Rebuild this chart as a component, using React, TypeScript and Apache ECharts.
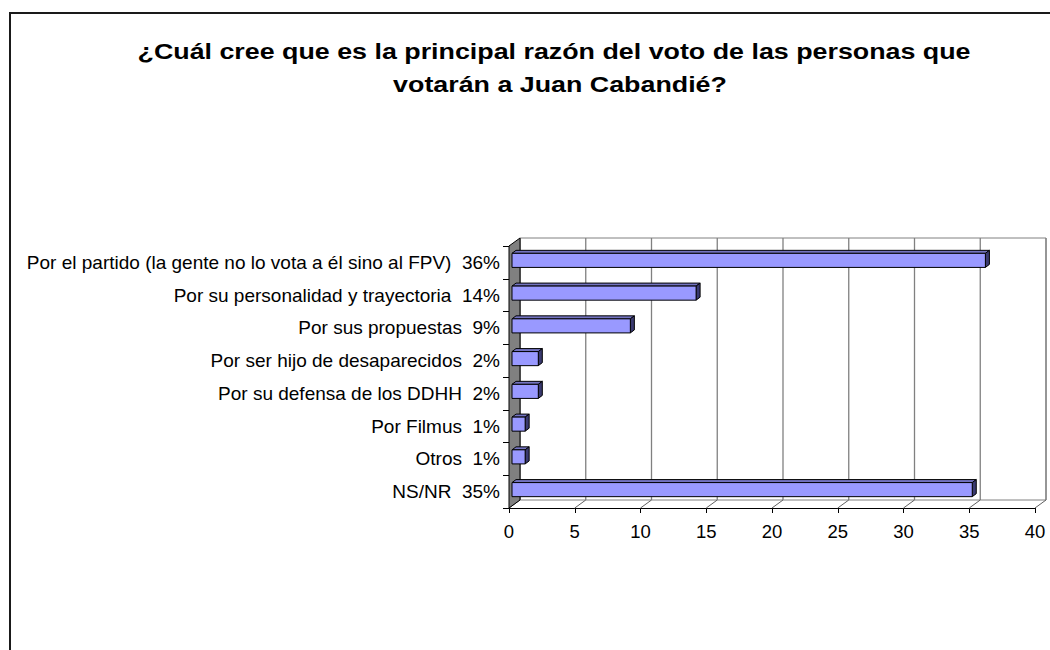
import React, { useEffect, useRef } from "react";
import * as echarts from "echarts";

const titleLines = [
  "¿Cuál cree que es la principal razón del voto de las personas que",
  "votarán a Juan Cabandié?",
];
const categories = [
  "Por el partido (la gente no lo vota a él sino al FPV)",
  "Por su personalidad y trayectoria",
  "Por sus propuestas",
  "Por ser hijo de desaparecidos",
  "Por su defensa de los DDHH",
  "Por Filmus",
  "Otros",
  "NS/NR",
];
const values = [36, 14, 9, 2, 2, 1, 1, 35];
const xTicks = [0, 5, 10, 15, 20, 25, 30, 35, 40];

const FONT = "'Liberation Sans', Arial, sans-serif";

export default function App() {
  const ref = useRef<HTMLDivElement>(null);
  useEffect(() => {
    if (!ref.current) return;
    const chart = echarts.init(ref.current, null, { renderer: "svg" });
    const labels = categories.map((c, i) => `${c}  ${values[i]}%`);
    const DX = 11, DY = -8;
    const option: any = {
      animation: false,
      backgroundColor: "#ffffff",
      textStyle: { fontFamily: FONT },
      grid: { left: 509, right: 15, top: 246, bottom: 142, containLabel: false },
      xAxis: {
        type: "value",
        min: 0,
        max: 40,
        interval: 5,
        splitLine: { show: false },
        axisLine: { show: true, lineStyle: { color: "#000", width: 1 } },
        axisTick: { show: true, length: 5, lineStyle: { color: "#000" } },
        axisLabel: { color: "#000", fontSize: 18.5, fontFamily: FONT, margin: 14 },
      },
      yAxis: {
        type: "category",
        inverse: true,
        data: labels,
        axisLine: { show: true, lineStyle: { color: "#000", width: 1 } },
        axisTick: { show: true, length: 6, lineStyle: { color: "#000" } },
        axisLabel: { color: "#000", fontSize: 19, fontFamily: FONT, margin: 9 },
        splitLine: { show: false },
      },
      graphic: [
        {
          type: "rect",
          z: 100,
          shape: { x: 10, y: 13, width: 1200, height: 1000 },
          style: { fill: "none", stroke: "#1a1a1a", lineWidth: 2 },
        },
        {
          type: "text",
          x: 554,
          y: 51,
          scaleX: 1.22,
          style: {
            text: titleLines[0],
            fontFamily: FONT,
            fontSize: 22,
            fontWeight: "bold",
            fill: "#000",
            textAlign: "center",
            textVerticalAlign: "middle",
          },
        },
        {
          type: "text",
          x: 560,
          y: 84,
          scaleX: 1.22,
          style: {
            text: titleLines[1],
            fontFamily: FONT,
            fontSize: 22,
            fontWeight: "bold",
            fill: "#000",
            textAlign: "center",
            textVerticalAlign: "middle",
          },
        },
      ],
      series: [
        {
          type: "custom",
          name: "frame",
          clip: false,
          z: 1,
          silent: true,
          data: [[0, 0]],
          renderItem: (params: any, api: any) => {
            const cs = params.coordSys;
            const x0 = cs.x, y0 = cs.y, w = cs.width, h = cs.height;
            const children: any[] = [];
            children.push({
              type: "rect",
              shape: { x: x0 + DX, y: y0 + DY, width: w, height: h },
              style: { fill: "#fff", stroke: "#808080", lineWidth: 1 },
            });
            xTicks.forEach((t) => {
              const p = api.coord([t, 0]);
              const px = p[0];
              children.push({
                type: "line",
                shape: { x1: px + DX, y1: y0 + DY, x2: px + DX, y2: y0 + h + DY },
                style: { stroke: "#808080", lineWidth: 1.3 },
              });
              children.push({
                type: "line",
                shape: { x1: px, y1: y0 + h, x2: px + DX, y2: y0 + h + DY },
                style: { stroke: "#606060", lineWidth: 1 },
              });
            });
            children.push({
              type: "polygon",
              shape: {
                points: [
                  [x0, y0],
                  [x0 + DX, y0 + DY],
                  [x0 + DX, y0 + h + DY],
                  [x0, y0 + h],
                ],
              },
              style: { fill: "#808080", stroke: "#000", lineWidth: 1 },
            });
            return { type: "group", children };
          },
        },
        {
          type: "custom",
          name: "bars",
          clip: false,
          z: 5,
          data: values.map((v, i) => [v, i]),
          encode: { x: 0, y: 1 },
          renderItem: (params: any, api: any) => {
            const v = api.value(0);
            const idx = api.value(1);
            const pe = api.coord([v, idx]);
            const ps = api.coord([0, idx]);
            const band = api.size([0, 1])[1];
            const bh = band * 0.43;
            const ox = 3, oy = -2, dx = 4, dy = -3;
            const xs = ps[0] + ox;
            const xe = pe[0] + ox;
            const top = pe[1] - bh / 2 + oy;
            const bot = top + bh;
            return {
              type: "group",
              children: [
                {
                  type: "polygon",
                  shape: { points: [[xs, top], [xs + dx, top + dy], [xe + dx, top + dy], [xe, top]] },
                  style: { fill: "#7373c0", stroke: "#000", lineWidth: 1 },
                },
                {
                  type: "polygon",
                  shape: { points: [[xe, top], [xe + dx, top + dy], [xe + dx, bot + dy], [xe, bot]] },
                  style: { fill: "#3a3a70", stroke: "#000", lineWidth: 1 },
                },
                {
                  type: "rect",
                  shape: { x: xs, y: top, width: xe - xs, height: bh },
                  style: { fill: "#9999ff", stroke: "#000", lineWidth: 1 },
                },
              ],
            };
          },
        },
      ],
    };
    chart.setOption(option);
    return () => chart.dispose();
  }, []);
  return (
    <div
      ref={ref}
      style={{ position: "absolute", left: 0, top: 0, width: 1050, height: 650 }}
    />
  );
}
